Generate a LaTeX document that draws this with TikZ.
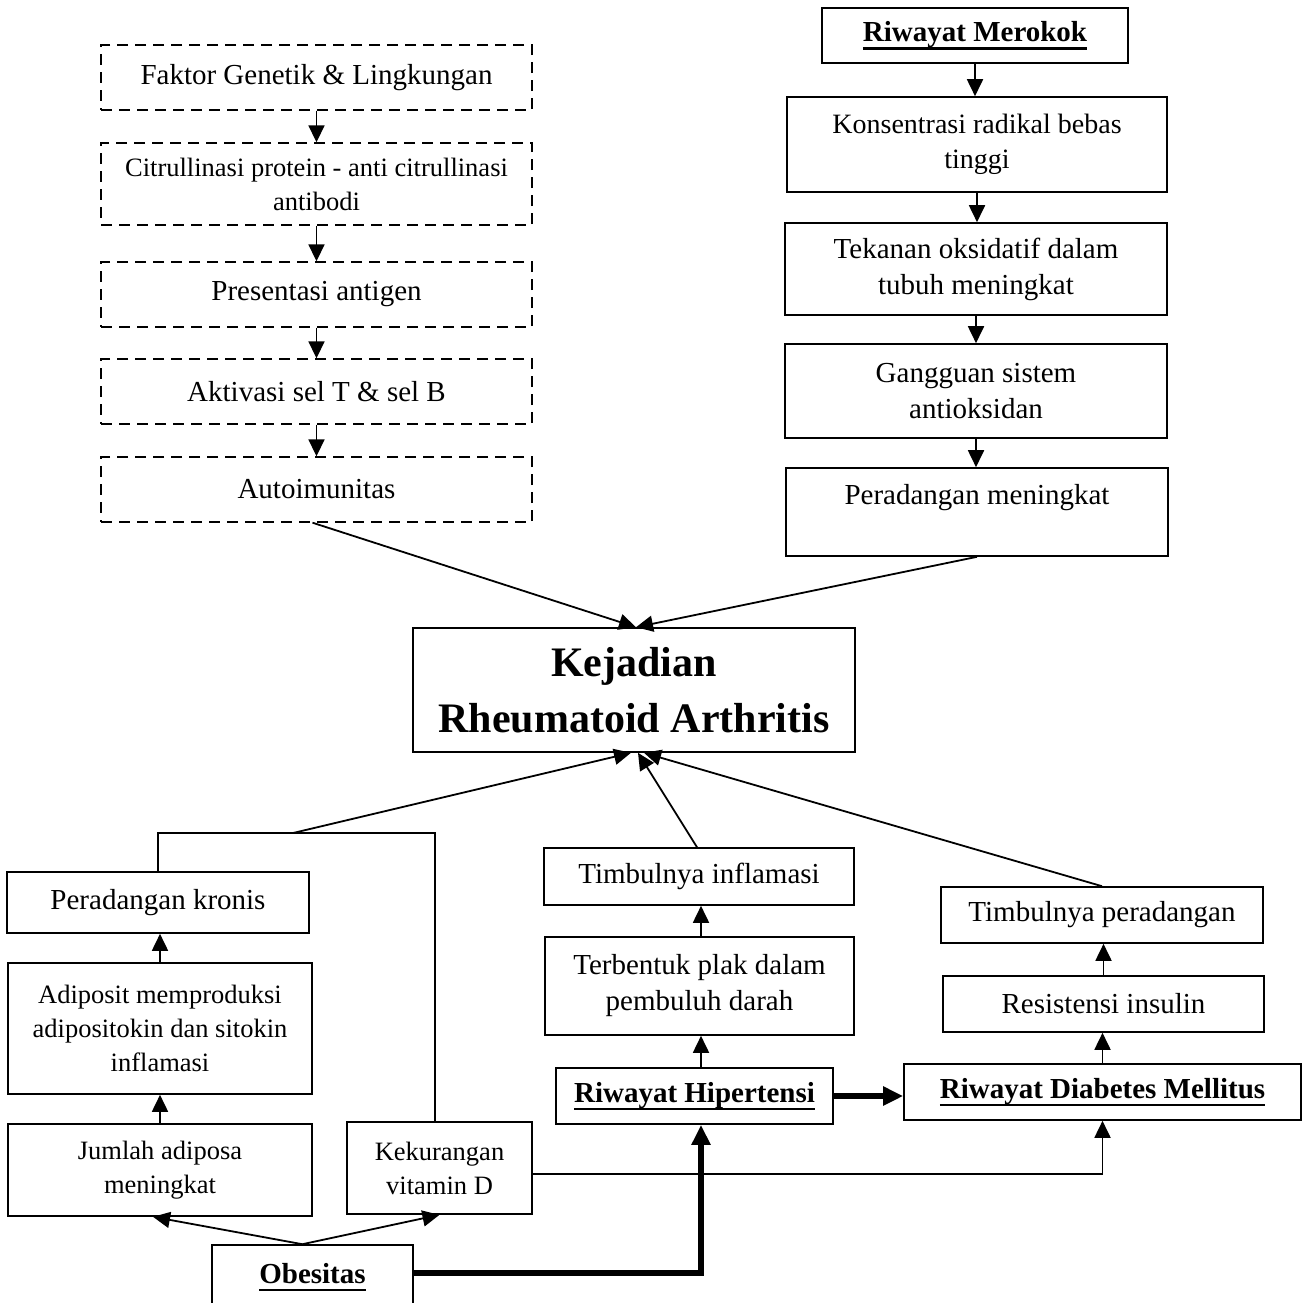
\documentclass[tikz,border=0pt]{standalone}
\usepackage{fontspec}
\setmainfont{Liberation Serif}
\usetikzlibrary{arrows.meta,calc}
% thick underline placed just below the baseline
\newcommand\ulbox[1]{\setbox0=\hbox{#1}\rlap{\rule[-8pt]{\wd0}{2.5pt}}\box0}
\begin{document}
\begin{tikzpicture}[x=1pt,y=-1pt,
  box/.style={draw, line width=1.6pt, rectangle, inner sep=0pt, align=center,
              font=\fontsize{29}{36}\selectfont},
  dbox/.style={box, line width=1.4pt, dash pattern=on 11pt off 7pt},
  smalltxt/.style={font=\fontsize{26.5}{34}\selectfont},
  midtxt/.style={font=\fontsize{28}{35}\selectfont},
  boldtxt/.style={font=\fontsize{29}{36}\selectfont\bfseries},
  conn/.style={line width=1.8pt},
  arr/.style={line width=1.8pt, -{Triangle[length=17pt,width=16pt]}},
  heavy/.style={line width=5.5pt, -{Triangle[length=20pt,width=18pt]}}]

\fill[white] (0,0) rectangle (1305,1302);
\useasboundingbox (0,0) rectangle (1305,1302);

% ---- genetic / immune pathway (dashed) ----
\node[dbox, minimum width=431pt, minimum height=65pt] (g1) at (316.5,77.5) {Faktor Genetik \& Lingkungan};
\node[dbox, smalltxt, minimum width=431pt, minimum height=82pt] (g2) at (316.5,184) {Citrullinasi protein - anti citrullinasi\\antibodi};
\node[dbox, minimum width=431pt, minimum height=65pt] (g3) at (316.5,294.5) {Presentasi antigen};
\node[dbox, minimum width=431pt, minimum height=65pt] (g4) at (316.5,391.5) {Aktivasi sel T \& sel B};
\node[dbox, minimum width=431pt, minimum height=65pt] (g5) at (316.5,489.5) {Autoimunitas};

% ---- smoking pathway ----
\node[box, boldtxt, minimum width=306pt, minimum height=55pt] (m0) at (975,35.5) {\ulbox{Riwayat Merokok}};
\node[box, midtxt, minimum width=380pt, minimum height=95pt] (m1) at (977,144.5) {Konsentrasi radikal bebas\\tinggi};
\node[box, minimum width=382pt, minimum height=92pt] (m2) at (976,269) {Tekanan oksidatif dalam\\tubuh meningkat};
\node[box, minimum width=382pt, minimum height=94pt] (m3) at (976,391) {Gangguan sistem\\antioksidan};
\node[box, minimum width=382pt, minimum height=88pt] (m4) at (977,512) {Peradangan meningkat\\\mbox{}};

% ---- outcome ----
\node[box, font=\fontsize{42}{56}\selectfont\bfseries, minimum width=442pt, minimum height=124pt] (kej) at (634,690) {Kejadian\\Rheumatoid Arthritis};

% ---- obesity pathway ----
\node[box, minimum width=302pt, minimum height=61pt] (pk) at (158,902.5) {Peradangan kronis};
\node[box, smalltxt, minimum width=304pt, minimum height=131pt] (ad) at (160,1028.5) {Adiposit memproduksi\\adipositokin dan sitokin\\inflamasi};
\node[box, smalltxt, minimum width=304pt, minimum height=92pt] (ja) at (160,1170) {Jumlah adiposa\\meningkat};
\node[box, smalltxt, minimum width=185pt, minimum height=92pt] (kv) at (439.5,1168) {Kekurangan\\vitamin D};
\node[box, boldtxt, minimum width=201pt, minimum height=64pt] (ob) at (312.5,1277) {\ulbox{Obesitas}};

% ---- hypertension pathway ----
\node[box, minimum width=310pt, minimum height=57pt] (ti) at (699,876.5) {Timbulnya inflamasi};
\node[box, minimum width=309pt, minimum height=98pt] (tp) at (699.5,986) {Terbentuk plak dalam\\pembuluh darah};
\node[box, boldtxt, minimum width=277pt, minimum height=56pt] (rh) at (694.5,1096) {\ulbox{Riwayat Hipertensi}};

% ---- diabetes pathway ----
\node[box, minimum width=322pt, minimum height=56pt] (tpe) at (1102,915) {Timbulnya peradangan};
\node[box, minimum width=321pt, minimum height=56pt] (ri) at (1103.5,1004) {Resistensi insulin};
\node[box, boldtxt, minimum width=397pt, minimum height=56pt] (rd) at (1102.5,1092) {\ulbox{Riwayat Diabetes Mellitus}};

% ---- connectors: dashed chain ----
\draw[arr] (g1.south) -- (g2.north);
\draw[arr] (g2.south) -- (g3.north);
\draw[arr] (g3.south) -- (g4.north);
\draw[arr] (g4.south) -- (g5.north);

% ---- connectors: smoking chain ----
\draw[arr] (m0.south) -- (m0.south |- m1.north);
\draw[arr] (m1.south) -- (m1.south |- m2.north);
\draw[arr] (m2.south) -- (m2.south |- m3.north);
\draw[arr] (m3.south) -- (m3.south |- m4.north);

% ---- into the outcome box from above ----
\draw[arr] ($(g5.south)+(-4,0)$) -- ($(kej.north)+(2,0)$);
\draw[arr] (m4.south) -- ($(kej.north)+(2,0)$);

% ---- obesity connectors ----
\coordinate (brL) at (158,833);
\coordinate (brR) at (435,833);
\coordinate (brJ) at (293,833);
\draw[conn] (pk.north) -- (brL) -- (brR) -- (brR |- kv.north);
\draw[arr] (brJ) -- ($(kej.south)+(-3,0)$);
\draw[arr] (ad.north) -- (ad.north |- pk.south);
\draw[arr] (ja.north) -- (ad.south);
\coordinate (obT) at ($(ob.north west)!0.45!(ob.north east)$);
\draw[arr] (obT) -- ($(ja.south)+(-7,0)$);
\draw[arr] (obT) -- (kv.south);
\draw[heavy] ($(ob.east)+(0,-4)$) -| ($(rh.south)+(6.5,0)$);
\draw[arr] ($(kv.east)+(0,6)$) -| (rd.south);

% ---- hypertension connectors ----
\draw[arr] ($(rh.north)+(6.5,0)$) -- ($(tp.south)+(1.5,0)$);
\draw[arr] ($(tp.north)+(1.5,0)$) -- ($(ti.south)+(2,0)$);
\draw[arr] ($(ti.north)+(-2,0)$) -- ($(kej.south)+(4,0)$);
\draw[heavy] (rh.east) -- (rh.east -| rd.west);

% ---- diabetes connectors ----
\draw[arr] (rd.north) -- (rd.north |- ri.south);
\draw[arr] (ri.north) -- (ri.north |- tpe.south);
\draw[arr] (tpe.north) -- ($(kej.south)+(10,0)$);
\end{tikzpicture}
\end{document}
